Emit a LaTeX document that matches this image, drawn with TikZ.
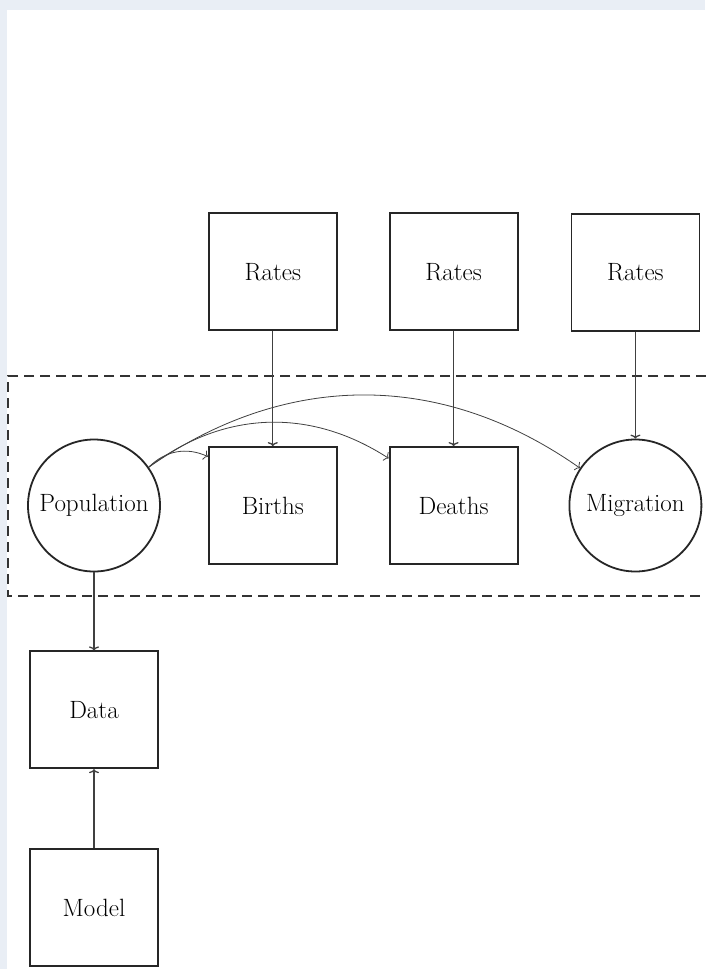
\documentclass[tikz,border=0pt]{standalone}
\usetikzlibrary{arrows.meta, positioning}
\definecolor{pagebg}{RGB}{233,238,245}
\tikzset{
    box/.style={rectangle, draw=black!85, line width=1.8pt, minimum width=128pt, minimum height=117pt, font=\fontsize{25}{30}\selectfont},
    pool/.style={circle, draw=black!85, line width=1.8pt, minimum size=132pt, inner sep=0pt, font=\fontsize{25}{30}\selectfont},
    feed/.style={-{To[length=4pt, width=10pt]}, line width=1.3pt, black!75},
    flow/.style={-{To[length=4pt, width=10pt]}, line width=0.8pt, black!75},
    group/.style={draw=black!80, line width=1.8pt, dash pattern=on 10pt off 6pt}
}
\begin{document}
\begin{tikzpicture}[x=1pt, y=-1pt, node distance=107pt and 51pt]

% Page
\useasboundingbox (0,0) rectangle (705,969);
\fill[pagebg] (0,0) rectangle (705,969);
\fill[white] (7,10) rectangle (705,969);

% Nodes
\node[pool] (pop) at (94,505.5) {Population};
\node[box, right=47pt of pop]    (births) {Births};
\node[box, right=of births]      (deaths) {Deaths};
\node[pool, right=50pt of deaths] (mig) {Migration};

\node[box, above=115pt of births] (rateb) {Rates};
\node[box, above=115pt of deaths] (rated) {Rates};
\node[box, above=of mig]          (ratem) {Rates};

\node[box, below=78pt of pop]  (data)  {Data};
\node[box, below=79pt of data] (model) {Model};

% Dashed group
\draw[group] (706,376) -- (8,376) -- (8,596) -- (706,596);

% Rates to events
\draw[feed] (rateb) -- (births);
\draw[feed] (rated) -- (deaths);
\draw[feed] (ratem) -- (mig);

% Population to events
\draw[flow] (pop.35) to[bend left=35] (births.143);
\draw[flow] (pop.35) to[bend left=35] (deaths.144);
\draw[flow] (pop.35) to[bend left=35] (mig.146);

% Data
\draw[feed] (pop) -- (data);
\draw[feed] (model) -- (data);
\end{tikzpicture}
\end{document}
